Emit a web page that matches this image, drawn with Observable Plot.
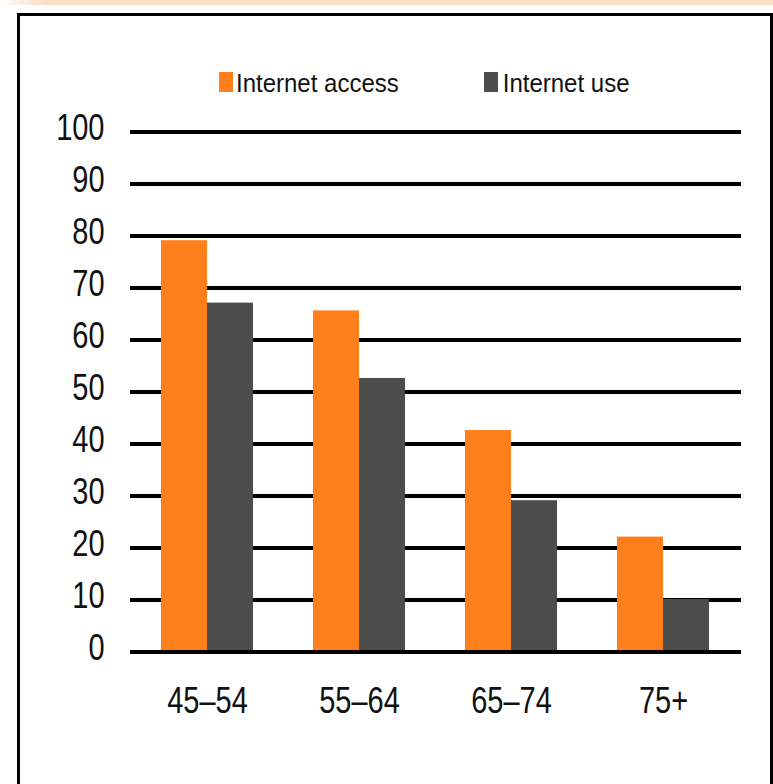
<!DOCTYPE html>
<html>
<head>
<meta charset="utf-8">
<script src="https://cdn.jsdelivr.net/npm/d3@7"></script>
<script src="https://cdn.jsdelivr.net/npm/@observablehq/plot@0.6"></script>
<style>
  html, body { margin: 0; padding: 0; background: #fff; width: 773px; height: 784px; overflow: hidden;
    font-family: "Liberation Sans", Arial, sans-serif; }
  #strip { position: absolute; left: 0; top: 0; width: 773px; height: 5px;
    background: linear-gradient(to right, #fff 0px, #fcdcc5 45px); }
  #frame { position: absolute; left: 17px; top: 13px; width: 750px; height: 800px;
    border: 3px solid #000; border-bottom: none; }
  #chart { position: absolute; left: 0; top: 0; }
  #chart svg { display: block; }
  #legend { position: absolute; left: 219px; top: 72px; height: 24px; display: flex; align-items: flex-start; }
  .item { display: flex; align-items: flex-start; }
  .swatch { width: 14px; height: 20px; }
  .label { font-size: 24px; line-height: 24px; color: #111; white-space: nowrap;
    transform: scaleY(1.1); transform-origin: 0 20px; }
</style>
</head>
<body>
<div id="strip"></div>
<div id="frame"></div>
<div id="chart"></div>
<div id="legend"></div>
<script>
// Age bands and the two measured series (percent of adults)
const ageGroups = ["45–54", "55–64", "65–74", "75+"];
const seriesNames = ["Internet access", "Internet use"];
const accessPct = [79, 65.5, 42.5, 22];
const usePct = [67, 52.5, 29, 10];
const yTicks = [0, 10, 20, 30, 40, 50, 60, 70, 80, 90, 100];
const seriesColors = ["#fe7f1b", "#4d4d4d"];

const rows = ageGroups.flatMap((g, i) => [
  {group: g, series: seriesNames[0], value: accessPct[i]},
  {group: g, series: seriesNames[1], value: usePct[i]}
]);

const chart = Plot.plot({
  width: 773,
  height: 784,
  marginLeft: 131,
  marginRight: 34,
  marginTop: 131,
  marginBottom: 133,
  style: {fontFamily: "'Liberation Sans', Arial, sans-serif", background: "transparent", color: "#111"},
  fx: {domain: ageGroups, padding: 0, label: null},
  x: {domain: seriesNames, paddingInner: 0, paddingOuter: 0.65, axis: null},
  y: {domain: [0, 100]},
  color: {domain: seriesNames, range: seriesColors},
  marks: [
    Plot.ruleY(yTicks.filter(t => t > 0), {stroke: "#000", strokeWidth: 4, insetLeft: -1, insetRight: -2, shapeRendering: "crispEdges"}),
    Plot.barY(rows, {fx: "group", x: "series", y: "value", fill: "series"}),
    Plot.ruleY([0], {stroke: "#000", strokeWidth: 4, insetLeft: -1, insetRight: -2, shapeRendering: "crispEdges"}),
    Plot.axisY(yTicks, {tickSize: 0, tickPadding: 27, fontSize: 29, dy: -3, label: null}),
    Plot.axisFx({anchor: "bottom", tickSize: 0, tickPadding: 36, fontSize: 29, label: null})
  ]
});

// Tall, narrow lettering: stretch each label vertically about its anchor
d3.select(chart).selectAll("text").each(function () {
  const t = this.getAttribute("transform");
  if (t && t.includes("translate")) this.setAttribute("transform", t + " scale(1,1.25)");
});

document.getElementById("chart").appendChild(chart);

// Legend row above the plot
const legend = d3.select("#legend");
seriesNames.forEach((name, i) => {
  const item = legend.append("div").attr("class", "item")
    .style("margin-left", i === 0 ? "0px" : "85px");
  item.append("div").attr("class", "swatch").style("background", seriesColors[i]);
  item.append("div").attr("class", "label")
    .style("margin-left", i === 0 ? "3px" : "5px")
    .text(name);
});
</script>
</body>
</html>
